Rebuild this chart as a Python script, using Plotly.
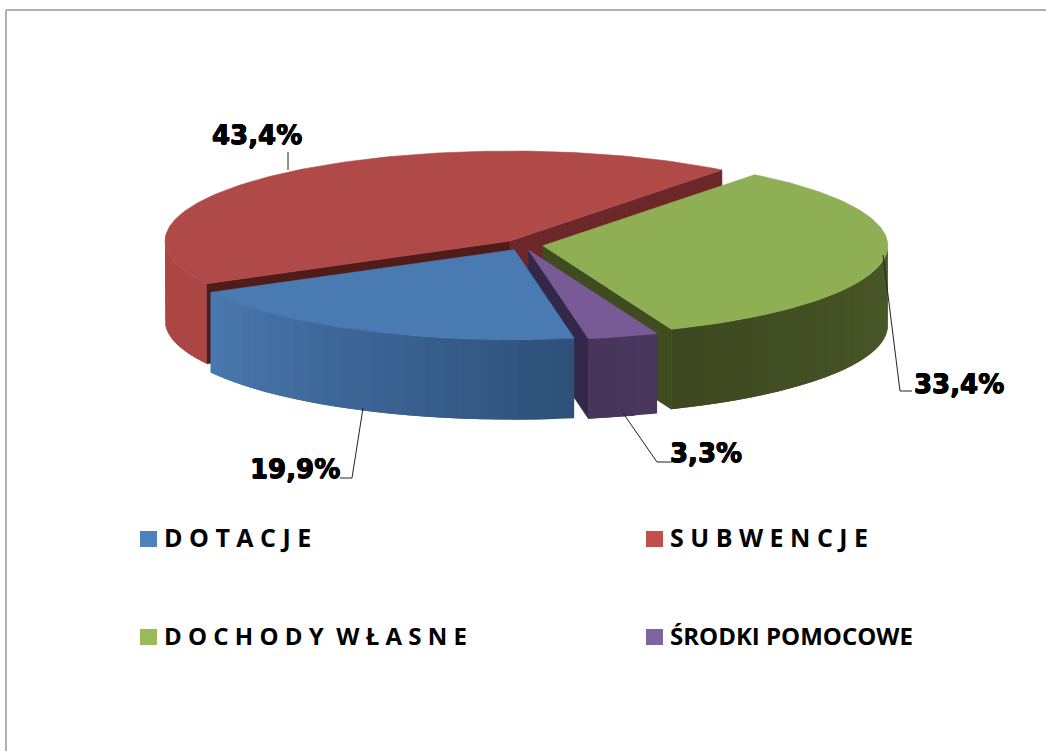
import math
import plotly.graph_objects as go

# ---- data ----
categories = ["D O T A C J E", "S U B W E N C J E", "D O C H O D Y  W Ł A S N E", "ŚRODKI POMOCOWE"]
values = [19.9, 43.4, 33.4, 3.3]

# ---- styles ----
legend_colors = ["#4F81BD", "#C0504D", "#9BBB59", "#8064A2"]
top_colors = ["#4A7AB2", "#B04A48", "#8FAF55", "#785A96"]
wall_from = [(46, 80, 120), (172, 70, 68), (84, 102, 46), (74, 56, 94)]   # at slice start
wall_to = [(74, 120, 176), (176, 73, 71), (62, 72, 32), (70, 52, 90)]     # at slice end
cut_start = ["#2A4668", "#501C19", "#3E4C20", "#34284A"]
cut_end = ["#2A4668", "#6C2828", "#3E4C20", "#34284A"]
draw_order = [1, 2, 3, 0]
HEAVY = "0.5px 0 0 #000, -0.5px 0 0 #000, 0 0.5px 0 #000, 0 -0.5px 0 #000"

# ---- projection of the pie ----
CX, CY = 523, 245
RX, RY = 345, 90
DEPTH = 80
EXPLODE = 0.058
START = 80.0


def rgb(c):
    return "rgb(%d,%d,%d)" % tuple(round(v) for v in c)


def pt(ax, ay, t, r=1.0):
    a = math.radians(t)
    return ax + r * RX * math.cos(a), ay + r * RY * math.sin(a)


def poly(xs, ys, color, name=None, edge=0.6):
    return go.Scatter(
        x=xs + xs[:1], y=ys + ys[:1], mode="lines", fill="toself", fillcolor=color,
        line=dict(color=color, width=edge), showlegend=False,
        hoverinfo="text" if name else "skip", text=name, name=name or "",
    )


# slice angular ranges come from the values
total = sum(values)
spans = []
t = START
for v in values:
    spans.append((t, t + v / total * 360))
    t += v / total * 360

fig = go.Figure()

for i in draw_order:
    t0, t1 = spans[i]
    mid = (t0 + t1) / 2
    ax, ay = pt(CX, CY, mid, EXPLODE)

    # cut faces
    if math.cos(math.radians(t0)) < 0:
        x, y = pt(ax, ay, t0)
        fig.add_trace(poly([ax, x, x, ax], [ay, y, y + DEPTH, ay + DEPTH], cut_start[i]))
    if math.cos(math.radians(t1)) > 0:
        x, y = pt(ax, ay, t1)
        fig.add_trace(poly([ax, x, x, ax], [ay, y, y + DEPTH, ay + DEPTH], cut_end[i]))

    # outer wall: overlapping strips, so that the shading shows no seams
    n = max(2, int((t1 - t0) / 3))
    step = (t1 - t0) / n
    for k in range(n):
        a = t0 + step * k
        b = min(t1, a + step * 2)
        if math.sin(math.radians(a + step / 2)) < -0.02:
            continue
        f = (k + 0.5) / n
        col = [wall_from[i][c] + (wall_to[i][c] - wall_from[i][c]) * f for c in range(3)]
        xs, ys = [], []
        for q in range(5):
            x, y = pt(ax, ay, a + (b - a) * q / 4)
            xs.append(x)
            ys.append(y)
        fig.add_trace(poly(xs + xs[::-1], ys + [v + DEPTH for v in ys[::-1]], rgb(col), edge=0))

    # top face
    m = max(8, int(t1 - t0))
    xs, ys = [ax], [ay]
    for k in range(m + 1):
        x, y = pt(ax, ay, t0 + (t1 - t0) * k / m)
        xs.append(x)
        ys.append(y)
    label = f"{categories[i]}: {values[i]:.1f}%".replace(".", ",")
    fig.add_trace(poly(xs, ys, top_colors[i], label))

# leader lines (chart furniture, in page pixels)
leaders = [
    ([363, 352, 340], [408, 478, 478]),
    ([288, 288], [152, 170]),
    ([883, 900, 912], [255, 391, 391]),
    ([623, 657, 672], [413, 462, 462]),
]
for xs, ys in leaders:
    fig.add_trace(go.Scatter(x=xs, y=ys, mode="lines", line=dict(color="#222222", width=1),
                             showlegend=False, hoverinfo="skip"))

# data labels
label_pos = [(295, 469), (257, 135), (959, 384), (706, 453)]
annotations = []
for v, (x, y) in zip(values, label_pos):
    annotations.append(dict(
        x=x, y=y, xref="x", yref="y", showarrow=False, xanchor="center", yanchor="middle",
        text=f"<b>{v:.1f}%</b>".replace(".", ","),
        font=dict(family="DejaVu Sans", size=26, color="#000000", shadow=HEAVY),
    ))

# legend
swatch_x = [140, 646, 140, 646]
swatch_y = [531, 531, 629, 629]
text_size = [25, 25, 24, 24]
shapes = []
for i, name in enumerate(categories):
    shapes.append(dict(type="rect", x0=swatch_x[i], x1=swatch_x[i] + 17, y0=swatch_y[i], y1=swatch_y[i] + 16,
                       xref="x", yref="y", fillcolor=legend_colors[i], line=dict(width=0)))
    annotations.append(dict(
        x=swatch_x[i] + 22, y=swatch_y[i] + 6, xref="x", yref="y", showarrow=False,
        xanchor="left", yanchor="middle",
        text="<b>" + name.replace(" ", "\u00a0") + "</b>",
        font=dict(family="Open Sans", size=text_size[i], color="#000000"),
    ))

# frame: left and top edges of the embedded picture
shapes.append(dict(type="line", x0=6, x1=6, y0=10, y1=751, xref="x", yref="y", line=dict(color="#B0B0B0", width=2)))
shapes.append(dict(type="line", x0=6, x1=1046, y0=10, y1=10, xref="x", yref="y", line=dict(color="#B0B0B0", width=2)))

fig.update_layout(
    width=1046, height=751, margin=dict(l=0, r=0, t=0, b=0),
    paper_bgcolor="white", plot_bgcolor="white", showlegend=False,
    xaxis=dict(range=[0, 1046], visible=False, fixedrange=True),
    yaxis=dict(range=[751, 0], visible=False, fixedrange=True),
    annotations=annotations, shapes=shapes,
)
fig.write_html("out.html", config=dict(displayModeBar=False),
               post_script="document.body.style.margin='0';")
